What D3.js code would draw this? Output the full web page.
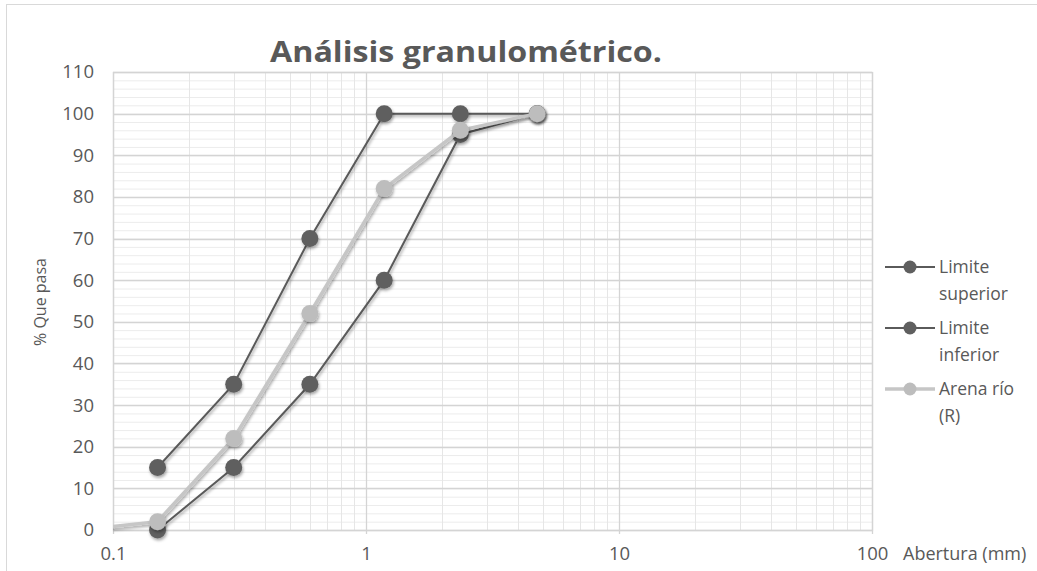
<!DOCTYPE html>
<html><head><meta charset="utf-8">
<script src="https://cdn.jsdelivr.net/npm/d3@7"></script>
<style>body{margin:0;background:#fff;} svg{display:block;font-family:"Open Sans",sans-serif;}</style>
</head><body>
<svg id="chart" width="1037" height="571"></svg>
<script>
const aberturas = [0.15, 0.3, 0.6, 1.18, 2.36, 4.75];
const limiteSuperior = [15, 35, 70, 100, 100, 100];
const limiteInferior = [0, 15, 35, 60, 95, 100];
const arenaX = [0.075, 0.15, 0.3, 0.6, 1.18, 2.36, 4.75];
const arenaRio = [0, 2, 22, 52, 82, 96, 100];
const xTicks = [0.1, 1, 10, 100];
const yTicks = [0,10,20,30,40,50,60,70,80,90,100,110];
const seriesNames = ["Limite superior", "Limite inferior", "Arena río (R)"];

const svg = d3.select("#chart");
const L = 113, R = 872, T = 72, B = 530;
const x = d3.scaleLog().domain([0.1, 100]).range([L, R]);
const y = d3.scaleLinear().domain([0, 110]).range([B, T]);

// outer border
svg.append("rect").attr("x",6.5).attr("y",4.5).attr("width",1040).attr("height",580)
  .attr("fill","none").attr("stroke","#d9d9d9");

// shadow filter
const defs = svg.append("defs");
const f = defs.append("filter").attr("id","sh").attr("x","-50%").attr("y","-50%").attr("width","200%").attr("height","200%");
f.append("feDropShadow").attr("dx",1).attr("dy",2).attr("stdDeviation",1.5).attr("flood-color","#000").attr("flood-opacity",0.35);
defs.append("clipPath").attr("id","clip").append("rect").attr("x",L).attr("y",T-20).attr("width",R-L).attr("height",B-T+40);

// minor grid
const minorY = d3.range(0, 111, 2);
svg.append("g").selectAll("line").data(minorY).join("line")
  .attr("x1",L).attr("x2",R).attr("y1",d=>y(d)+0.5).attr("y2",d=>y(d)+0.5)
  .attr("stroke","#ececec").attr("stroke-width",1);
const minorX = [];
[0.1,1,10].forEach(dec=>{ for(let k=2;k<=9;k++) minorX.push(dec*k); });
svg.append("g").selectAll("line").data(minorX).join("line")
  .attr("y1",T).attr("y2",B).attr("x1",d=>Math.round(x(d))+0.5).attr("x2",d=>Math.round(x(d))+0.5)
  .attr("stroke","#e6e6e6").attr("stroke-width",1);
// major grid
svg.append("g").selectAll("line").data(yTicks).join("line")
  .attr("x1",L).attr("x2",R).attr("y1",d=>Math.round(y(d))+0.5).attr("y2",d=>Math.round(y(d))+0.5)
  .attr("stroke","#d4d4d4").attr("stroke-width",1.3);
svg.append("g").selectAll("line").data(xTicks).join("line")
  .attr("y1",T).attr("y2",B+4).attr("x1",d=>Math.round(x(d))+0.5).attr("x2",d=>Math.round(x(d))+0.5)
  .attr("stroke","#d4d4d4").attr("stroke-width",1.3);
svg.append("rect").attr("x",L+0.5).attr("y",T+0.5).attr("width",R-L).attr("height",B-T)
  .attr("fill","none").attr("stroke","#d4d4d4").attr("stroke-width",1.3);

// axes labels
const axY = svg.append("g").attr("transform",`translate(${L},0)`)
  .call(d3.axisLeft(y).tickValues(yTicks).tickSize(0).tickPadding(19));
axY.select(".domain").remove();
axY.selectAll("text").attr("font-family","Open Sans").attr("font-size",18.5).attr("fill","#595959");
const axX = svg.append("g").attr("transform",`translate(0,${B})`)
  .call(d3.axisBottom(x).tickValues(xTicks).tickFormat(d3.format("")).tickSize(0).tickPadding(17));
axX.select(".domain").remove();
axX.selectAll("text").attr("font-family","Open Sans").attr("font-size",18.5).attr("fill","#595959");

svg.append("text").attr("x",903).attr("y",560).attr("font-size",18).attr("fill","#595959").text("Abertura (mm)");
svg.append("text").attr("transform","translate(46,302) rotate(-90)").attr("text-anchor","middle")
  .attr("font-size",16).attr("fill","#595959").text("% Que pasa");
svg.append("text").attr("x",270).attr("y",62).attr("font-size",29).attr("textLength",392).attr("lengthAdjust","spacingAndGlyphs")
  .attr("font-weight","bold").attr("fill","#595959").text("Análisis granulométrico.");

// series
const series = [
  {xs: aberturas, ys: limiteSuperior, line:"#5a5a5a", mark:"#5f5f5f", w:2},
  {xs: aberturas, ys: limiteInferior, line:"#5a5a5a", mark:"#5f5f5f", w:2},
  {xs: arenaX, ys: arenaRio, line:"#c6c6c6", mark:"#bdbdbd", w:3.5}
];
const lineGen = d3.line().x(d=>x(d[0])).y(d=>y(d[1]));
series.forEach(s=>{
  const pts = s.xs.map((v,i)=>[v,s.ys[i]]);
  svg.append("path").datum(pts).attr("d",lineGen).attr("fill","none")
    .attr("stroke",s.line).attr("stroke-width",s.w).attr("clip-path","url(#clip)").attr("filter","url(#sh)");
  svg.append("g").selectAll("circle").data(pts.filter(p=>p[0]>=0.1)).join("circle")
    .attr("cx",d=>x(d[0])).attr("cy",d=>y(d[1])).attr("r",8.5).attr("fill",s.mark).attr("filter","url(#sh)");
});

// legend
const legY = [267, 328, 389];
const lg = svg.append("g");
series.forEach((s,i)=>{
  const g = lg.append("g");
  g.append("line").attr("x1",885).attr("x2",935).attr("y1",legY[i]).attr("y2",legY[i])
    .attr("stroke",s.line).attr("stroke-width",s.w);
  g.append("circle").attr("cx",910).attr("cy",legY[i]).attr("r",6.5).attr("fill",s.mark);
  const words = seriesNames[i].split(" ");
  const l1 = i===2 ? "Arena río" : words[0];
  const l2 = i===2 ? "(R)" : words[1];
  g.append("text").attr("x",939).attr("y",legY[i]+6).attr("font-size",17.5).attr("fill","#595959").text(l1);
  g.append("text").attr("x",939).attr("y",legY[i]+33).attr("font-size",17.5).attr("fill","#595959").text(l2);
});
</script>
</body></html>
